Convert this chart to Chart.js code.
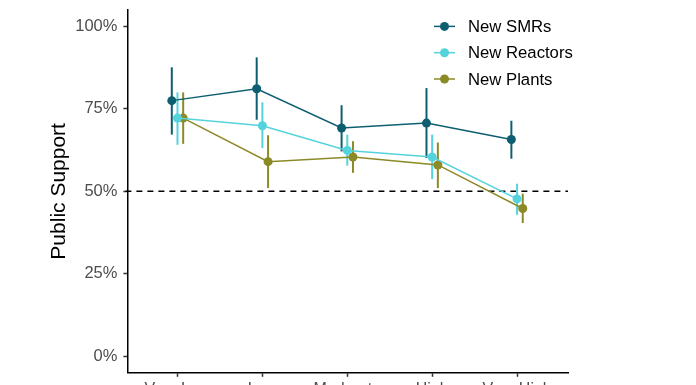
<!DOCTYPE html>
<html>
<head>
<meta charset="utf-8">
<script src="https://cdn.jsdelivr.net/npm/chart.js@4.4.1/dist/chart.umd.min.js"></script>
<style>
  html, body { margin: 0; padding: 0; background: #fff; overflow: hidden; height: 385px; }
  #wrap { width: 696px; height: 410px; position: relative; top: -6px; }
</style>
</head>
<body>
<div id="wrap"><canvas id="myChart"></canvas></div>
<script>
// categorias del eje x
var categories = ['Very Low', 'Low', 'Moderate', 'High', 'Very High'];
var yTicks = [0, 25, 50, 75, 100];
var refLine = 50;

// valores (porcentaje) y sus intervalos
var smrs = [77.5, 81.1, 69.2, 70.7, 65.7];
var smrsLow = [67.2, 71.7, 62.1, 60.1, 59.9];
var smrsHigh = [87.6, 90.6, 76.1, 81.3, 71.4];

var reactors = [72.2, 69.9, 62.4, 60.4, 47.7];
var reactorsLow = [64.1, 63.1, 57.8, 53.7, 42.9];
var reactorsHigh = [80.0, 77.0, 67.2, 67.2, 52.3];

var plants = [72.2, 59.0, 60.4, 58.0, 44.8];
var plantsLow = [64.4, 51.0, 55.6, 51.0, 40.4];
var plantsHigh = [80.0, 67.0, 65.2, 64.8, 49.3];

var dodge = 0.067;
var fontFam = "'Liberation Sans', Arial, sans-serif";

function makeSeries(label, vals, lo, hi, color, shift) {
  return {
    label: label,
    data: vals.map(function (v, i) { return { x: i + shift, y: v }; }),
    low: lo,
    high: hi,
    borderColor: color,
    backgroundColor: color,
    pointBackgroundColor: color,
    pointBorderColor: color,
    pointRadius: 4.5,
    pointBorderWidth: 0,
    borderWidth: 1.5,
    tension: 0
  };
}

// barras de error, linea de referencia y leyenda
var extras = {
  id: 'extras',
  beforeDatasetsDraw: function (chart) {
    var ctx = chart.ctx, xs = chart.scales.x, ys = chart.scales.y, a = chart.chartArea;
    ctx.save();
    // linea discontinua en 50%
    ctx.strokeStyle = '#000';
    ctx.lineWidth = 1.5;
    ctx.setLineDash([6, 5]);
    ctx.beginPath();
    var yr = ys.getPixelForValue(refLine);
    ctx.moveTo(a.left - 2, yr);
    ctx.lineTo(a.right, yr);
    ctx.stroke();
    ctx.setLineDash([]);
    chart.data.datasets.forEach(function (ds) {
      ctx.strokeStyle = ds.borderColor;
      ctx.lineWidth = 2;
      ds.data.forEach(function (p, i) {
        var x = xs.getPixelForValue(p.x);
        ctx.beginPath();
        ctx.moveTo(x, ys.getPixelForValue(ds.low[i]));
        ctx.lineTo(x, ys.getPixelForValue(ds.high[i]));
        ctx.stroke();
      });
    });
    ctx.restore();
  },
  afterDraw: function (chart) {
    var ctx = chart.ctx, a = chart.chartArea;
    ctx.save();
    var lx = a.right - 134, ly = a.top + 16.5;
    chart.data.datasets.forEach(function (ds, i) {
      var y = ly + i * 26.3;
      ctx.strokeStyle = ds.borderColor;
      ctx.fillStyle = ds.borderColor;
      ctx.lineWidth = 1.5;
      ctx.beginPath();
      ctx.moveTo(lx, y);
      ctx.lineTo(lx + 21, y);
      ctx.stroke();
      ctx.beginPath();
      ctx.arc(lx + 10.5, y, 4.5, 0, Math.PI * 2);
      ctx.fill();
      ctx.fillStyle = '#000';
      ctx.font = '16.7px ' + fontFam;
      ctx.textBaseline = 'middle';
      ctx.fillText(ds.label, lx + 34, y + 1);
    });
    ctx.restore();
  }
};

var ctx = document.getElementById('myChart').getContext('2d');
var myChart = new Chart(ctx, {
  type: 'line',
  data: {
    datasets: [
      makeSeries('New SMRs', smrs, smrsLow, smrsHigh, '#0d5e70', -dodge),
      makeSeries('New Reactors', reactors, reactorsLow, reactorsHigh, '#55d3dc', 0),
      makeSeries('New Plants', plants, plantsLow, plantsHigh, '#8b8a27', dodge)
    ]
  },
  options: {
    responsive: true,
    maintainAspectRatio: false,
    animation: false,
    layout: { padding: { left: 44, right: 128, top: 3, bottom: 2 } },
    plugins: {
      legend: { display: false },
      tooltip: { enabled: false }
    },
    scales: {
      x: {
        type: 'linear',
        min: -0.59,
        max: 4.6,
        afterBuildTicks: function (axis) {
          axis.ticks = categories.map(function (c, i) { return { value: i }; });
        },
        ticks: {
          autoSkip: false,
          maxRotation: 0,
          padding: 3,
          color: '#4d4d4d',
          font: { family: fontFam, size: 16 },
          callback: function (v) { return categories[v]; }
        },
        grid: { drawOnChartArea: false, drawTicks: true, tickLength: 4, tickColor: '#333', tickWidth: 1.5 },
        border: { display: true, color: '#000', width: 1.5 }
      },
      y: {
        min: -5,
        max: 105,
        afterBuildTicks: function (axis) {
          axis.ticks = yTicks.map(function (v) { return { value: v }; });
        },
        ticks: {
          padding: 6,
          color: '#4d4d4d',
          font: { family: fontFam, size: 16.5 },
          callback: function (v) { return v + '%'; }
        },
        title: {
          display: true,
          text: 'Public Support',
          color: '#000',
          font: { family: fontFam, size: 21 },
          padding: { top: 3, bottom: -3 }
        },
        grid: { drawOnChartArea: false, drawTicks: true, tickLength: 4, tickColor: '#333', tickWidth: 1.5 },
        border: { display: true, color: '#000', width: 1.5 }
      }
    }
  },
  plugins: [extras]
});
</script>
</body>
</html>
